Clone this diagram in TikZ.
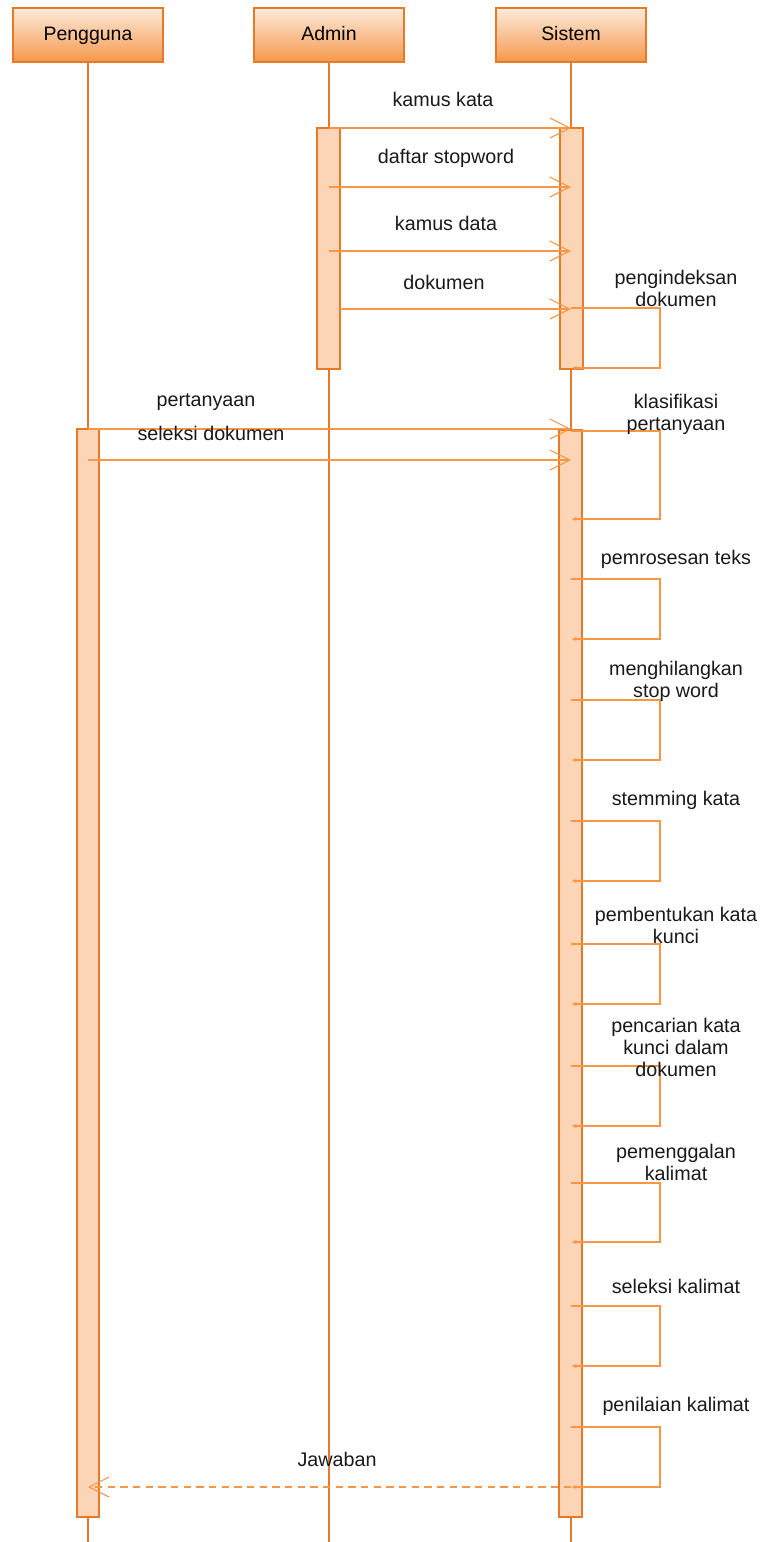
\documentclass[tikz,border=0pt]{standalone}
\usepackage{fontspec}
\setmainfont{Liberation Sans}
\usetikzlibrary{arrows.meta,positioning}
\definecolor{umlline}{RGB}{232,121,38}
\definecolor{umlmsg}{RGB}{247,150,70}
\definecolor{umlfill}{RGB}{251,213,181}
\definecolor{umltop}{RGB}{253,235,220}
\definecolor{umlbot}{RGB}{245,152,76}
\tikzset{
    actor/.style={draw=umlline,line width=1.4pt,top color=umltop,bottom color=umlbot,minimum width=113pt,minimum height=40.5pt,text height=10.5pt,text depth=3pt,font=\fontsize{14.6}{16.5}\selectfont},
    lifeline/.style={draw=umlline,line width=1.1pt},
    actbar/.style={draw=umlline,line width=1.1pt,fill=umlfill},
    msg/.style={draw=umlmsg,line width=1pt,-{Straight Barb[length=15pt,width=15pt,line width=0.8pt]}},
    selfmsg/.style={draw=umlmsg,line width=1pt,-{Latex[length=4pt,width=3pt]}},
    reply/.style={draw=umlmsg,line width=1.1pt,dash pattern=on 5.5pt off 4pt,-{Straight Barb[length=15pt,width=15pt,line width=0.8pt]}},
    lbl/.style={align=center,text=black!90,font=\fontsize{14.8}{16.5}\selectfont}
}
\begin{document}
\begin{tikzpicture}[x=0.75pt,y=-0.75pt]
    \useasboundingbox (0,0) rectangle (761,1542);
    \coordinate (bot) at (0,1542);

    \node[actor] (pengguna) at (88,35) {Pengguna};
    \node[actor] (admin) at (329,35) {Admin};
    \node[actor] (sistem) at (571,35) {Sistem};

    \draw[lifeline] (pengguna.south) -- (pengguna.south |- bot);
    \draw[lifeline] (admin.south) -- (admin.south |- bot);
    \draw[lifeline] (sistem.south) -- (sistem.south |- bot);

    \draw[actbar] (317,128) rectangle (340,369);
    \draw[actbar] (560,128) rectangle (583,369);
    \draw[actbar] (77,429) rectangle (99,1517);
    \draw[actbar] (559,430) rectangle (582,1517);

    \draw[msg] (admin |- 0,128) -- (sistem |- 0,128);
    \node[lbl] (kamuskata) at (443,99) {kamus kata};
    \draw[msg] (admin |- 0,187) -- (sistem |- 0,187);
    \node[lbl] (stopword) at (446,158) {daftar stopword};
    \draw[msg] (admin |- 0,251) -- (sistem |- 0,251);
    \node[lbl] (kamusdata) at (446,223) {kamus data};
    \draw[msg] (340,309) -- (sistem |- 0,309);
    \node[lbl] (dokumen) at (444,282) {dokumen};

    \draw[msg] (pengguna |- 0,429) -- (sistem |- 0,429);
    \node[lbl] (pertanyaan) at (206,402) {pertanyaan};
    \draw[msg] (pengguna |- 0,460) -- (sistem |- 0,460);
    \node[lbl] (seleksidok) at (211,433) {seleksi dokumen};

    \foreach \ytop/\ybot/\ylab/\txt in {308/368/288/{pengindeksan\\dokumen},
        431/519/414/{klasifikasi\\pertanyaan},
        579/639/559/{pemrosesan teks},
        700/760/681/{menghilangkan\\stop word},
        821/881/800/{stemming kata},
        944/1004/925/{pembentukan kata\\kunci},
        1066/1126/1047/{pencarian kata\\kunci dalam\\dokumen},
        1183/1242/1162/{pemenggalan\\kalimat},
        1306/1366/1286/{seleksi kalimat},
        1427/1487/1406/{penilaian kalimat}}{
        \draw[selfmsg] (sistem |- 0,\ytop) -| (660,\ybot) -- (sistem |- 0,\ybot);
        \node[lbl] (self\ytop) at (676,\ylab) {\txt};
    }

    \draw[reply] (sistem |- 0,1487) -- (pengguna |- 0,1487);
    \node[lbl] (jawaban) at (337,1459) {Jawaban};
\end{tikzpicture}
\end{document}
